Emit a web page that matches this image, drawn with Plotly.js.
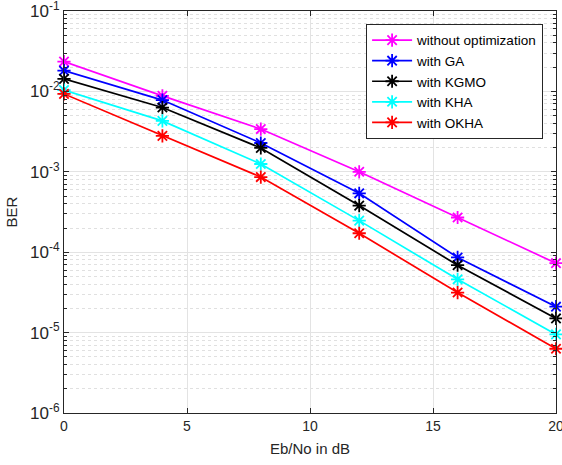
<!DOCTYPE html>
<html><head><meta charset="utf-8">
<script src="https://cdn.plot.ly/plotly-3.0.1.min.js"></script>
<style>html,body{margin:0;padding:0;background:#fff}#c{width:562px;height:465px}</style>
</head><body><div id="c"></div>
<script>
const ebno = [0, 4, 8, 12, 16, 20];
const seriesNames = ['without optimization', 'with GA', 'with KGMO', 'with KHA', 'with OKHA'];
const berNoOpt = [0.0235, 0.0088, 0.0034, 0.00100, 2.7e-4, 7.3e-5];
const berGA    = [0.0181, 0.0078, 0.00228, 5.4e-4, 8.6e-5, 2.1e-5];
const berKGMO  = [0.0143, 0.0063, 0.00198, 3.8e-4, 6.9e-5, 1.5e-5];
const berKHA   = [0.0104, 0.0043, 0.00125, 2.47e-4, 4.6e-5, 9.5e-6];
const berOKHA  = [0.0093, 0.0028, 8.6e-4, 1.72e-4, 3.15e-5, 6.3e-6];
const colors = ['#ff00ff', '#0000ff', '#000000', '#00ffff', '#ff0000'];
const yTickVals = [1e-6, 1e-5, 1e-4, 1e-3, 1e-2, 1e-1];
const yTickText = ['10<sup>-6</sup>', '10<sup>-5</sup>', '10<sup>-4</sup>', '10<sup>-3</sup>', '10<sup>-2</sup>', '10<sup>-1</sup>'];
const xTickVals = [0, 5, 10, 15, 20];

const all = [berNoOpt, berGA, berKGMO, berKHA, berOKHA];
const traces = all.map((ys, i) => ({
  x: ebno, y: ys, name: seriesNames[i], type: 'scatter', mode: 'lines+markers',
  line: {color: colors[i], width: 1.7},
  marker: {symbol: 'asterisk-open', size: 11, color: colors[i], line: {color: colors[i], width: 1.8}},
  cliponaxis: false
}));

const axColor = '#262626';
const layout = {
  width: 562, height: 465,
  margin: {l: 64, r: 6, t: 11, b: 52},
  paper_bgcolor: '#fff', plot_bgcolor: '#fff',
  font: {family: 'Liberation Sans, Arial, sans-serif', color: axColor, size: 14},
  showlegend: true,
  legend: {x: 0.614, y: 0.968, xanchor: 'left', yanchor: 'top', bgcolor: '#fff',
    bordercolor: axColor, borderwidth: 1, font: {size: 13.5, color: '#000'},
    tracegroupgap: 0, itemwidth: 40},
  xaxis: {
    range: [0, 20], tickvals: xTickVals, ticks: 'inside', ticklen: 5, tickcolor: axColor,
    showline: true, linecolor: axColor, linewidth: 1, mirror: 'ticks',
    showgrid: true, gridcolor: '#e3e3e3', gridwidth: 1, zeroline: false,
    ticklabeloverflow: 'allow',
    title: {text: 'Eb/No in dB', font: {size: 15}, standoff: 10},
    tickfont: {size: 14}
  },
  yaxis: {
    type: 'log', range: [-6, -1], tickvals: yTickVals, ticktext: yTickText,
    ticks: 'inside', ticklen: 5, tickcolor: axColor,
    showline: true, linecolor: axColor, linewidth: 1, mirror: 'ticks',
    showgrid: true, gridcolor: '#e3e3e3', gridwidth: 1, zeroline: false,
    ticklabeloverflow: 'allow',
    title: {text: 'BER', font: {size: 15}, standoff: 8},
    tickfont: {size: 17},
    minor: {dtick: 'D1', showgrid: true, gridcolor: '#e0e0e0', griddash: 'dot', gridwidth: 1, ticks: 'inside', ticklen: 3, tickcolor: axColor}
  }
};
Plotly.newPlot('c', traces, layout, {displayModeBar: false, staticPlot: true});
</script></body></html>
